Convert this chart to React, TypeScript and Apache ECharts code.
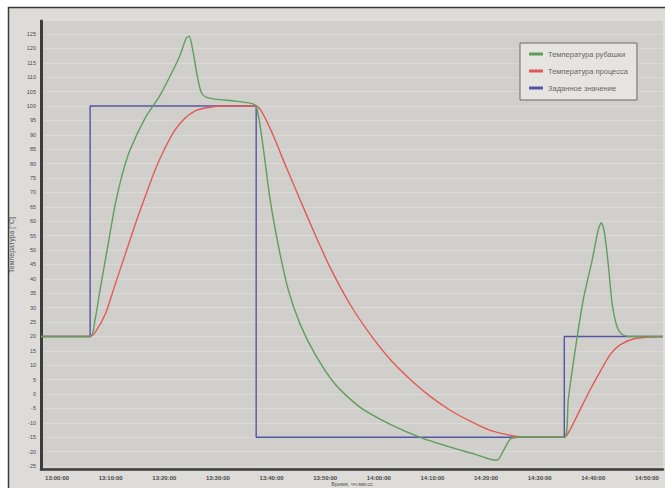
import React, { useEffect, useRef } from "react";
import * as echarts from "echarts";

const seriesNames = ["Температура рубашки", "Температура процесса", "Заданное значение"];
const xAxisTitle = "Время, чч:мм:сс";
const timeTicks = [0, 10, 20, 30, 40, 50, 60, 70, 80, 90, 100, 110];
const timeLabels = [
  "13:00:00", "13:10:00", "13:20:00", "13:30:00", "13:40:00", "13:50:00",
  "14:00:00", "14:10:00", "14:20:00", "14:30:00", "14:40:00", "14:50:00",
];
const tempTicks = [
  -25, -20, -15, -10, -5, 0, 5, 10, 15, 20, 25, 30, 35, 40, 45, 50, 55, 60, 65, 70,
  75, 80, 85, 90, 95, 100, 105, 110, 115, 120, 125,
];

// [minutes from 13:00:00, °C]
const jacketTemp: [number, number][] = [
  [-3, 20], [6.16, 20], [7.09, 25.9], [8.02, 36.3], [9.51, 51.9], [10.82, 65.7],
  [12.13, 76.1], [13.62, 84.8], [16.42, 95.8], [19.22, 103.8], [21.46, 111.8],
  [22.95, 117.7], [24.07, 123.5], [24.63, 124.2], [25.37, 118.7], [26.12, 110.7],
  [26.87, 104.8], [27.8, 103.1], [29.48, 102.4], [33.21, 101.7], [36.0, 101],
  [37.13, 100], [38.25, 88.2], [39.74, 67.4], [41.23, 51.9], [43.1, 36.3],
  [45.34, 24.2], [48.13, 13.8], [51.87, 3.4], [56.53, -4.6], [62.13, -10.5],
  [67.72, -15], [73.32, -18.4], [77.99, -20.9], [80.78, -22.6], [82.09, -22.9],
  [83.2, -19.8], [84.5, -15.7], [86.0, -15], [94.59, -15], [95.34, -1.8],
  [96.64, 15.5], [98.13, 32.8], [99.81, 46.7], [100.93, 57.1], [101.49, 59.5],
  [102.05, 56.4], [102.8, 44.9], [103.54, 31.1], [104.48, 23.1], [105.41, 20.7],
  [106.9, 20], [113, 20],
];
const processTemp: [number, number][] = [
  [-3, 20], [6.16, 20], [7.09, 21.4], [8.96, 27.6], [10.82, 38], [12.69, 48.4],
  [14.55, 58.8], [16.42, 68.5], [18.28, 77.8], [20.15, 85.5], [22.01, 91.7],
  [23.88, 95.8], [25.75, 98.3], [27.61, 99.3], [30.41, 100], [37.13, 100],
  [38.81, 95.8], [40.67, 88.2], [42.54, 79.6], [45.34, 67.4], [48.13, 55.3],
  [50.93, 43.9], [54.66, 31.1], [58.4, 20.7], [62.13, 12], [65.86, 5.1],
  [69.59, -0.8], [73.32, -5.6], [77.05, -9.4], [80.78, -12.6], [84.51, -14.3],
  [87.31, -15], [94.59, -15], [95.71, -12.2], [97.57, -5.3], [99.44, 1.6],
  [101.31, 7.9], [103.17, 13.8], [105.04, 17.2], [107.84, 19.3], [113, 20],
];
const setpoint: [number, number][] = [
  [-3, 20], [6.16, 20], [6.16, 100], [37.13, 100], [37.13, -15], [94.59, -15],
  [94.59, 20], [113, 20],
];

const colors = ["#5f9e5c", "#e25a55", "#5555a8"];

export default function App() {
  const ref = useRef<HTMLDivElement>(null);
  useEffect(() => {
    if (!ref.current) return;
    const chart = echarts.init(ref.current, undefined, { renderer: "svg" });
    const lineSeries = (name: string, data: [number, number][], color: string, z: number) => ({
      name,
      type: "line",
      data,
      showSymbol: false,
      symbol: "none",
      smooth: 0.25,
      z,
      lineStyle: { color, width: 1.4 },
      itemStyle: { color },
    });
    chart.setOption({
      animation: false,
      backgroundColor: "#ffffff",
      textStyle: { fontFamily: "Liberation Sans, Arial, sans-serif" },
      graphic: [
        {
          type: "rect",
          z: -10,
          shape: { x: 8.5, y: 7.5, width: 665, height: 490 },
          style: { fill: "#dedcd9", stroke: "#3a3a3a", lineWidth: 1.5 },
          silent: true,
        },
        {
          type: "text",
          x: 352,
          y: 481,
          z: 10,
          silent: true,
          style: {
            text: xAxisTitle,
            fontSize: 5.5,
            fill: "#555",
            align: "center",
            verticalAlign: "top",
            fontFamily: "Liberation Sans, Arial, sans-serif",
          },
        },
      ],
      grid: {
        left: 41,
        right: 2,
        top: 21,
        bottom: 19,
        show: true,
        containLabel: false,
        outerBoundsMode: "none",
        backgroundColor: "#d1cfcb",
        borderWidth: 0,
      },
      legend: {
        orient: "vertical",
        left: 520,
        top: 43,
        width: 117,
        padding: [7, 9, 8, 9],
        itemGap: 9,
        itemWidth: 14,
        itemHeight: 3,
        icon: "rect",
        backgroundColor: "#e6e4e1",
        borderColor: "#6a6a6a",
        borderWidth: 1,
        textStyle: { fontSize: 7.5, color: "#666" },
        data: seriesNames,
      },
      xAxis: {
        type: "value",
        min: -3,
        max: 113,
        axisLine: { show: true, onZero: false, lineStyle: { color: "#3c3c3c", width: 2.5 } },
        axisTick: { show: false, customValues: timeTicks },
        splitLine: { show: false },
        axisLabel: {
          customValues: timeTicks,
          fontSize: 6,
          lineHeight: 7,
          fontWeight: "bold",
          color: "#4a4a4a",
          margin: 5,
          formatter: (v: number) => timeLabels[Math.round(v / 10)] ?? "",
        },
      },
      yAxis: {
        type: "value",
        min: -26,
        max: 129.5,
        name: "Температура [°C]",
        nameLocation: "middle",
        nameGap: 26,
        nameRotate: 90,
        nameTextStyle: { fontSize: 7, color: "#555" },
        axisLine: { show: true, onZero: false, lineStyle: { color: "#3c3c3c", width: 3 } },
        axisTick: { show: false, customValues: tempTicks },
        splitLine: { show: true, lineStyle: { color: "#dcdad7", width: 1 } },
        axisLabel: {
          customValues: tempTicks,
          fontSize: 5.5,
          color: "#4a4a4a",
          margin: 5,
        },
      },
      series: [
        lineSeries(seriesNames[2], setpoint, colors[2], 2),
        lineSeries(seriesNames[1], processTemp, colors[1], 3),
        lineSeries(seriesNames[0], jacketTemp, colors[0], 4),
      ],
    });
    return () => chart.dispose();
  }, []);
  return (
    <div
      ref={ref}
      style={{ position: "absolute", left: 0, top: 0, width: 665, height: 488 }}
    />
  );
}
